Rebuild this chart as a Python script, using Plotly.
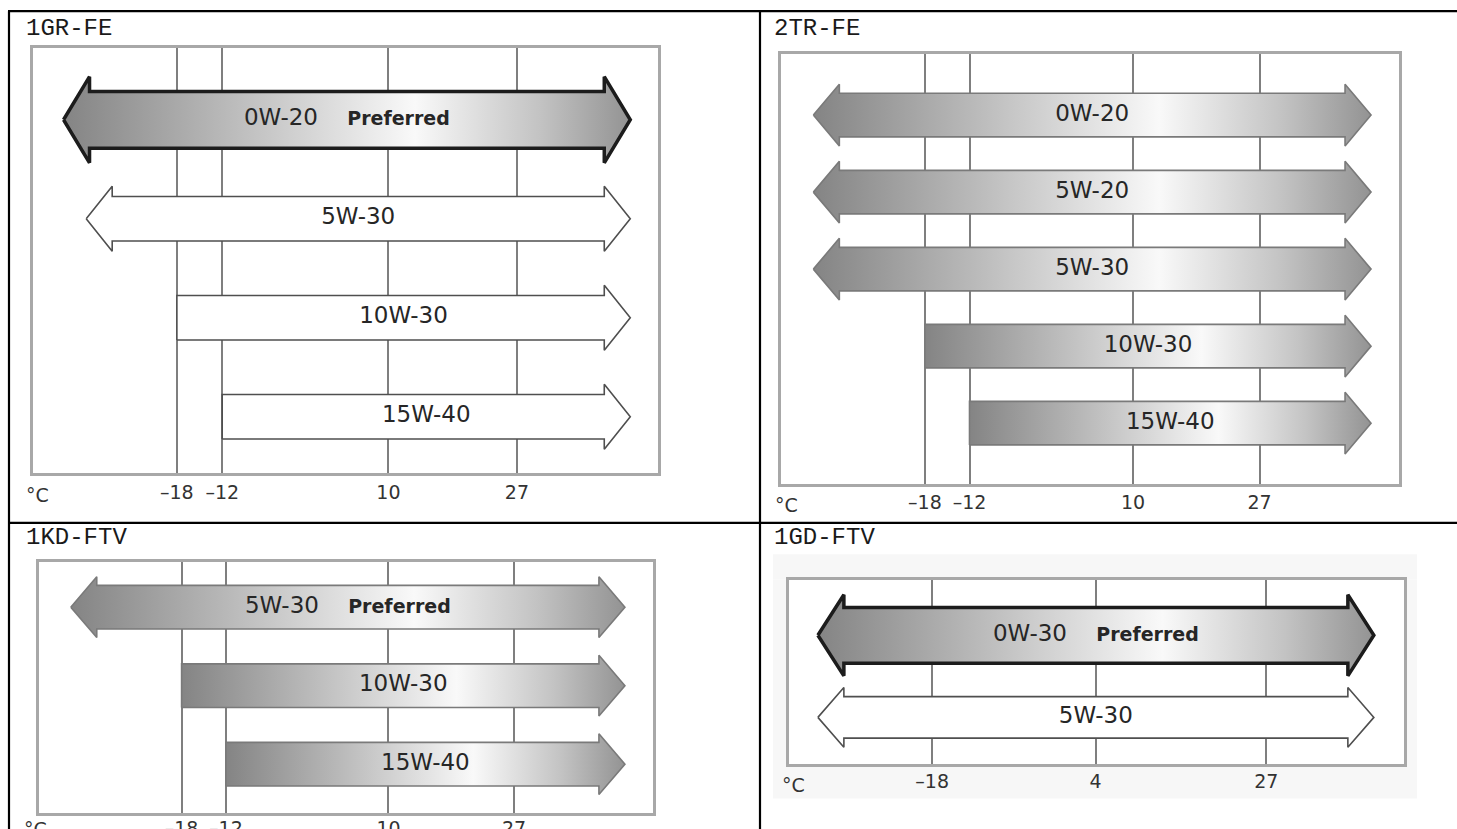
import plotly.graph_objects as go

# ---------------- data ----------------
engine_names = ["1GR-FE", "2TR-FE", "1KD-FTV", "1GD-FTV"]

ticks_1gr = [-18, -12, 10, 27]
grades_1gr = ["0W-20", "5W-30", "10W-30", "15W-40"]
low_1gr = [-33, -30, -18, -12]
high_1gr = [42, 42, 42, 42]
lowopen_1gr = [True, True, False, False]
preferred_1gr = [True, False, False, False]

ticks_2tr = [-18, -12, 10, 27]
grades_2tr = ["0W-20", "5W-20", "5W-30", "10W-30", "15W-40"]
low_2tr = [-33, -33, -33, -18, -12]
high_2tr = [42, 42, 42, 42, 42]
lowopen_2tr = [True, True, True, False, False]
preferred_2tr = [False, False, False, False, False]

ticks_1kd = [-18, -12, 10, 27]
grades_1kd = ["5W-30", "10W-30", "15W-40"]
low_1kd = [-33, -18, -12]
high_1kd = [42, 42, 42]
lowopen_1kd = [True, False, False]
preferred_1kd = [True, False, False]

ticks_1gd = [-18, 4, 27]
grades_1gd = ["0W-30", "5W-30"]
low_1gd = [-33.4, -33.4]
high_1gd = [41.5, 41.5]
lowopen_1gd = [True, True]
preferred_1gd = [True, False]

# ---------------- layout / style ----------------
W, H = 1457, 829          # reference picture size (coordinates below are in this frame)
FIG_H = 840               # rendered height (the capture squeezes the page to 829)
GRAD = [[0, "#848484"], [0.28, "#b8b8b8"], [0.62, "#f9f9f9"], [0.84, "#c3c3c3"], [1, "#939393"]]
HEAD_PX = 26
FONT = "DejaVu Sans"
MONO = "Courier New, Liberation Mono, monospace"

panels = [
    dict(name=engine_names[0], ticks=ticks_1gr, grades=grades_1gr, low=low_1gr, high=high_1gr,
         lowopen=lowopen_1gr, pref=preferred_1gr,
         styles=["bold", "white", "white", "white"],
         box=(33, 47, 658, 467), trange=(-37.04, 45.67), row0=118.2, step=97.7,
         shaft=(22, 28), head=(32, 42.5), label=(24, 28), degc=(24, 489), standoff=0),
    dict(name=engine_names[1], ticks=ticks_2tr, grades=grades_2tr, low=low_2tr, high=high_2tr,
         lowopen=lowopen_2tr, pref=preferred_2tr,
         styles=["grad"] * 5,
         box=(781, 53, 1399, 478), trange=(-37.35, 45.76), row0=113.6, step=76.0,
         shaft=(21.5, 21.5), head=(30.5, 30.5), label=(772, 28), degc=(773, 498), standoff=-1),
    dict(name=engine_names[2], ticks=ticks_1kd, grades=grades_1kd, low=low_1kd, high=high_1kd,
         lowopen=lowopen_1kd, pref=preferred_1kd,
         styles=["grad"] * 3,
         box=(39, 555, 653, 802), trange=(-37.3, 45.8), row0=599.2, step=77.5,
         shaft=(21.5, 21.5), head=(30, 30), label=(24, 530), degc=(22, 818), standoff=-3),
    dict(name=engine_names[3], ticks=ticks_1gd, grades=grades_1gd, low=low_1gd, high=high_1gd,
         lowopen=lowopen_1gd, pref=preferred_1gd,
         styles=["bold", "white"],
         box=(789, 572, 1404, 754), trange=(-37.29, 45.56), row0=627.0, step=81.0,
         shaft=(20.5, 27.5), head=(29.5, 40), label=(772, 530), degc=(780, 775), standoff=-2),
]


def arrow_xy(lo, hi, lo_open, yc, hs, hh, hl):
    xs, ys = [], []
    if lo_open:
        xs += [lo, lo + hl, lo + hl]
        ys += [yc, yc - hh, yc - hs]
    else:
        xs += [lo, lo]
        ys += [yc + hs, yc - hs]
    xs += [hi - hl, hi - hl, hi, hi - hl, hi - hl]
    ys += [yc - hs, yc - hh, yc, yc + hh, yc + hs]
    if lo_open:
        xs += [lo + hl, lo + hl, lo]
        ys += [yc + hs, yc + hh, yc]
    else:
        xs += [lo]
        ys += [yc + hs]
    return xs, ys


def prect(x0, y0, x1, y1, color):
    return dict(type="rect", xref="paper", yref="paper", layer="below",
                x0=x0 / W, x1=x1 / W, y0=1 - y1 / H, y1=1 - y0 / H,
                fillcolor=color, line=dict(width=0))


fig = go.Figure()
annotations = []
shapes = []

BG = "#f7f7f7"
shapes += [prect(773, 547, 1417, 572, BG), prect(773, 754, 1417, 788, BG),
           prect(773, 572, 789, 754, BG), prect(1404, 572, 1417, 754, BG)]

for k, p in enumerate(panels):
    idx = "" if k == 0 else str(k + 1)
    xa, ya = "x" + idx, "y" + idx
    L, T, R, B = p["box"]
    tmin, tmax = p["trange"]
    pxdeg = (R - L) / (tmax - tmin)
    hl = HEAD_PX / pxdeg
    step = p["step"]
    ytop = (T - p["row0"]) / step
    ybot = (B - p["row0"]) / step

    fig.layout["xaxis" + idx] = dict(
        domain=[L / W, R / W], range=[tmin, tmax], anchor=ya,
        tickmode="array", tickvals=p["ticks"],
        ticktext=[("–" + str(-t)) if t < 0 else str(t) for t in p["ticks"]],
        showgrid=True, gridcolor="#7f7f7f", gridwidth=1.8, zeroline=False,
        showline=True, linecolor="#a8a8a8", linewidth=2.5, mirror=True,
        ticks="", ticklabelstandoff=p["standoff"], tickangle=0,
        tickfont=dict(family=FONT, size=19, color="#333333"), fixedrange=True)
    fig.layout["yaxis" + idx] = dict(
        domain=[1 - B / H, 1 - T / H], range=[ybot, ytop], anchor=xa,
        showgrid=False, zeroline=False, showticklabels=False, ticks="",
        showline=True, linecolor="#a8a8a8", linewidth=2.5, mirror=True, fixedrange=True)

    for i, g in enumerate(p["grades"]):
        style = p["styles"][i]
        big = style == "bold"
        hs = (p["shaft"][1] if big else p["shaft"][0]) / step
        hh = (p["head"][1] if big else p["head"][0]) / step
        xs, ys = arrow_xy(p["low"][i], p["high"][i], p["lowopen"][i], i, hs, hh, hl)
        kw = dict(x=xs, y=ys, xaxis=xa, yaxis=ya, mode="lines", fill="toself",
                  hoverinfo="skip", showlegend=False)
        if style == "white":
            kw.update(fillcolor="white", line=dict(color="#4f4f4f", width=1.6))
        elif style == "bold":
            kw.update(fillgradient=dict(type="horizontal", colorscale=GRAD),
                      line=dict(color="#1c1c1c", width=3.5))
        else:
            kw.update(fillgradient=dict(type="horizontal", colorscale=GRAD),
                      line=dict(color="#7a7a7a", width=1.6))
        fig.add_trace(go.Scatter(**kw))

        txt = g
        if p["pref"][i]:
            txt = g + "\u00a0\u00a0\u00a0\u00a0<span style='font-size:19px'><b>Preferred</b></span>"
        fig.add_trace(go.Scatter(
            x=[(p["low"][i] + p["high"][i]) / 2], y=[i], xaxis=xa, yaxis=ya,
            mode="text", text=[txt], textposition="middle center",
            textfont=dict(family=FONT, size=23, color="#262626"),
            hoverinfo="skip", showlegend=False))

    annotations.append(dict(text=p["name"], xref="paper", yref="paper",
                            x=p["label"][0] / W, y=1 - p["label"][1] / H,
                            xanchor="left", yanchor="middle", showarrow=False,
                            font=dict(family=MONO, size=24, color="#1a1a1a")))
    annotations.append(dict(text="°C", xref="paper", yref="paper",
                            x=p["degc"][0] / W, y=1 - p["degc"][1] / H,
                            xanchor="left", yanchor="middle", showarrow=False,
                            font=dict(family=FONT, size=19, color="#333333")))

# table rules
line = dict(color="black", width=2.2)
for (xa0, ya0, xa1, ya1) in [(8, 11, W, 11), (9, 11, 9, H), (760, 11, 760, H), (8, 516, W, 516)]:
    shapes.append(dict(type="line", xref="paper", yref="paper",
                       x0=xa0 / W, y0=1 - ya0 / H, x1=xa1 / W, y1=1 - ya1 / H, line=line))

fig.update_layout(width=W, height=FIG_H, margin=dict(l=0, r=0, t=0, b=0),
                  paper_bgcolor="white", plot_bgcolor="white",
                  annotations=annotations, shapes=shapes, showlegend=False)

fig.write_html("out.html", config={"displayModeBar": False},
               post_script="document.body.style.margin='0';"
                           "document.documentElement.style.overflow='hidden';")
